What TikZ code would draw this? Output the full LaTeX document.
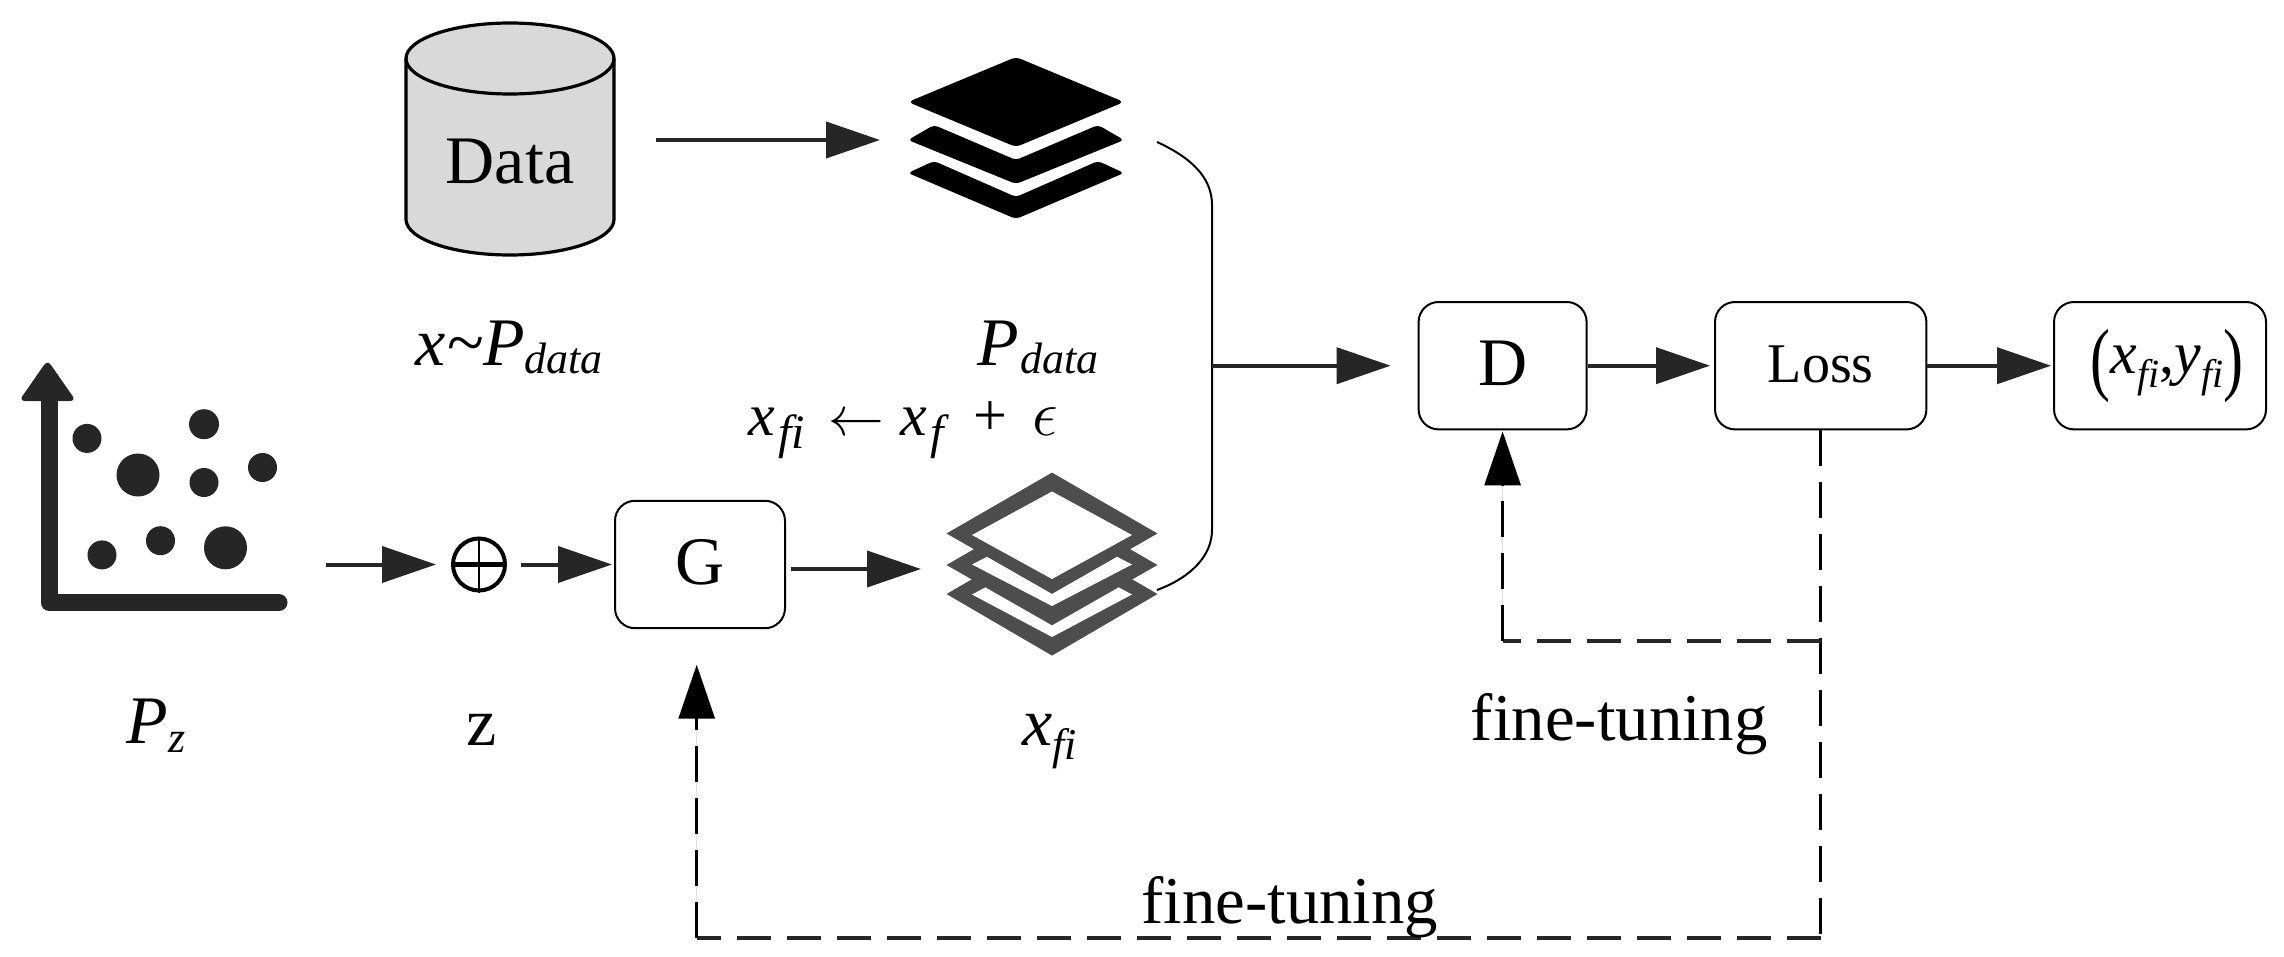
\documentclass[tikz,border=0pt]{standalone}
\usepackage{fontspec}
\usepackage{graphicx}
\setmainfont{Liberation Serif}
\usetikzlibrary{arrows.meta,calc}
\definecolor{ink}{HTML}{262626}
\definecolor{gfill}{HTML}{D9D9D9}
\definecolor{lay}{HTML}{4D4D4D}
\newcommand{\fs}[1]{\fontsize{#1}{#1}\selectfont}
\newcommand{\wbox}[2]{\makebox[#1][l]{#2}}
\tikzset{
  box/.style={draw=black,line width=1pt,fill=white,rounded corners=10pt,inner sep=0pt,minimum height=63.7pt},
  lbl/.style={inner sep=0pt,anchor=base west,font=\fs{34}},
  flow/.style={draw=ink,line width=2pt,-{Triangle[length=27pt,width=18pt]}},
  fbh/.style={draw=ink,line width=2pt,dash pattern=on 17pt off 8pt},
  fbv/.style={draw=black,line width=1.5pt,dash pattern=on 18pt off 8pt},
  tipped/.style={-{Triangle[length=27pt,width=18pt]}},
  dot/.style={fill=ink,draw=none,circle,inner sep=0pt,minimum size=#1},
}
\begin{document}
\begin{tikzpicture}[x=0.5pt,y=-0.5pt]
\useasboundingbox (0,0) rectangle (2284,957);
% Data cylinder
\draw[line width=1.6pt,fill=gfill] (406,58.5) .. controls (406,39) and (453,23) .. (510,23) .. controls (567,23) and (614,39) .. (614,58.5) -- (614,219.5) .. controls (614,239) and (567,255) .. (510,255) .. controls (453,255) and (406,239) .. (406,219.5) -- cycle;
\draw[line width=1.6pt] (406,58.5) .. controls (406,78) and (453,94) .. (510,94) .. controls (567,94) and (614,78) .. (614,58.5);
\node[inner sep=0pt,font=\fs{34}] (data) at (510,162) {Data};
% black layers
\fill[black,rounded corners=2.5pt] (1016,57) -- (1124,102) -- (1016,147) -- (908,102) -- cycle;
\fill[black,rounded corners=2pt] (908,140) -- (934,125) -- (1016,160) -- (1098,125) -- (1124,140) -- (1016,184) -- cycle;
\fill[black,rounded corners=2pt] (908,173) -- (934,161) -- (1016,197) -- (1098,161) -- (1124,173) -- (1016,219) -- cycle;
% outlined layers
\fill[lay] (1052,533) -- (1157.5,594) -- (1052,655.6) -- (946.5,594) -- cycle;
\fill[white] (1052,552) -- (1132,594.5) -- (1052,637) -- (972,594.5) -- cycle;
\fill[lay] (1052,504) -- (1157.5,565) -- (1052,625.3) -- (946.5,565) -- cycle;
\fill[white] (1052,523) -- (1132,564.5) -- (1052,606) -- (972,564.5) -- cycle;
\fill[lay] (1052,472.6) -- (1157.5,533.5) -- (1052,593.8) -- (946.5,533.5) -- cycle;
\fill[white] (1052,491.5) -- (1132,535) -- (1052,579) -- (972,535) -- cycle;
% scatter icon
\draw[ink,line width=8.5pt,line cap=round,line join=round] (49,400) -- (49,602.7) -- (279,602.7);
\fill[ink,rounded corners=3pt] (47.5,360) -- (76,401) -- (19,401) -- cycle;
\node[dot=14.5pt] (d1) at (87,438.4) {};
\node[dot=15pt] (d2) at (204,424.2) {};
\node[dot=21.5pt] (d3) at (138,475) {};
\node[dot=14.5pt] (d4) at (204,482.5) {};
\node[dot=14.5pt] (d5) at (262.5,467.5) {};
\node[dot=14.5pt] (d6) at (102,554.9) {};
\node[dot=14.5pt] (d7) at (160.5,540.7) {};
\node[dot=21.5pt] (d8) at (225.5,547.8) {};
% plus
\node[circle,draw=black,line width=2pt,inner sep=0pt,minimum size=26pt] (plus) at (479,564.5) {};
\draw[line width=2.3pt] (plus.west) -- (plus.east);
\draw[line width=1pt] (plus.north) -- (plus.south);
% boxes
\node[box,minimum width=85pt,font=\fs{34}] (G) at (700,564.5) {\raisebox{2.5pt}{G}};
\node[box,minimum width=84pt,font=\fs{34}] (D) at (1502.6,365.7) {\raisebox{2.4pt}{D}};
\node[box,minimum width=105.7pt,font=\fs{28}] (L) at (1820.7,365.7) {\raisebox{1.5pt}{Loss}};
\node[box,minimum width=106pt,font=\fs{30}] (O) at (2160,365.7) {\hspace*{7pt}\raisebox{-6pt}{\scalebox{1}[1.35]{(}}\textit{x}\raisebox{-7pt}{\fs{20}\textit{fi}},\textit{y}\raisebox{-7pt}{\fs{20}\textit{fi}}\raisebox{-6pt}{\scalebox{1}[1.35]{)}}};
% connector end points
\coordinate (dataout) at (656,140);
\coordinate (stackin) at (880,140);
\coordinate (topout) at (1157,142);
\coordinate (botout) at (1157,590);
\coordinate (join) at (1212,365.7);
\coordinate (pzout) at (326,564.5);
\coordinate (gout) at (791,569);
\coordinate (fakein) at (921,569);
\coordinate (tee) at (1820.7,641);
\coordinate (cornerD) at (1502.6,641);
\coordinate (cornerR) at (1820.7,937.5);
\coordinate (cornerL) at (696.7,937.5);
\coordinate (gin) at (696.7,664.7);
% connectors
\draw[flow] (dataout) -- (stackin);
\draw[flow,shorten >=7.5pt] (pzout) -- (plus.west);
\draw[flow,shorten <=7pt,shorten >=1pt] (plus.east) -- (G.west);
\draw[flow] (gout) -- (fakein);
\draw[black,line width=1pt] (topout) .. controls (1192,158) and (1212,178) .. (1212,205) -- (1212,530) .. controls (1212,555) and (1192,577) .. (botout);
\draw[flow,shorten >=13.5pt] (join) -- (D.west);
\draw[flow,shorten >=2pt] (D.east) -- (L.west);
\draw[flow,shorten >=1pt] (L.east) -- (O.west);
\draw[fbv] (L.south) -- (cornerR);
\draw[fbh] (cornerR) -- (cornerL);
\draw[fbv,tipped,fill=black] (cornerL) -- (gin);
\draw[fbh] (tee) -- (cornerD);
\draw[fbv,tipped,fill=black,shorten >=0.5pt] (cornerD) -- (D.south);
% labels
\node[lbl] (l1) at (415,365) {\wbox{16pt}{\textit{x}}\wbox{18pt}{\char"7E}\wbox{20.5pt}{\textit{P}}\raisebox{-4pt}{\fs{22}\textit{data}}};
\node[lbl] (l2) at (977,365) {\wbox{21.5pt}{\textit{P}}\raisebox{-4pt}{\fs{22}\textit{data}}};
\node[lbl,font=\fs{30}] (l3) at (748,435) {\wbox{15pt}{\textit{x}}\wbox{25pt}{\raisebox{-6.5pt}{\fs{24}\textit{fi}}}\wbox{36pt}{\scalebox{1.12}{$\leftarrow$}}\wbox{15pt}{\textit{x}}\wbox{21.5pt}{\raisebox{-6.5pt}{\fs{24}\textit{f}}}\wbox{29.5pt}{+}\scalebox{1.3}{$\epsilon$}};
\node[lbl] (l4) at (126,743.4) {\wbox{21pt}{\textit{P}}\raisebox{-4.5pt}{\fs{22}\textit{z}}};
\node[lbl] (l5) at (466,745.3) {z};
\node[lbl] (l6) at (1022,745.3) {\textit{x}\raisebox{-7pt}{\fs{22}\textit{fi}}};
\node[lbl,font=\fs{33.4}] (l7) at (1470.5,740) {fine-tuning};
\node[lbl,font=\fs{33.4}] (l8) at (1141,923) {fine-tuning};
\end{tikzpicture}
\end{document}
